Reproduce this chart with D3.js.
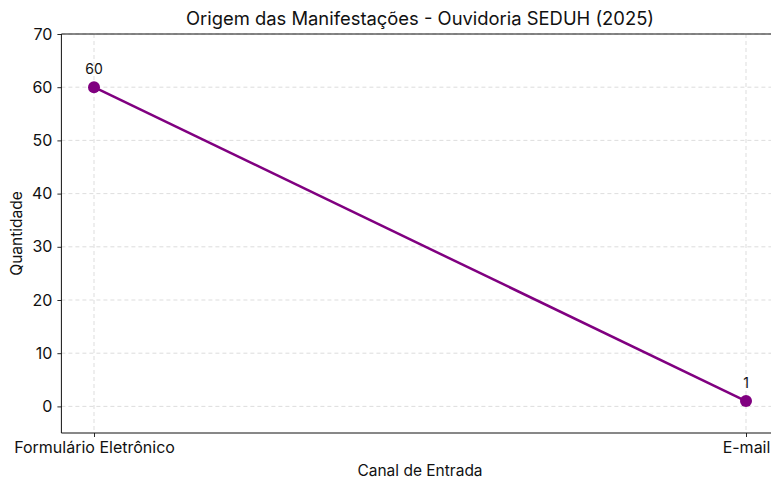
<!DOCTYPE html>
<html>
<head>
<meta charset="utf-8">
<script src="https://cdn.jsdelivr.net/npm/d3@7"></script>
<style>
	body { margin: 0; background: #fff; }
	text { font-family: "Inter", "Roboto", sans-serif; fill: #111; }
</style>
</head>
<body>
<div id="chart-area"></div>
<script>
// Data
var categories = ["Formulário Eletrônico", "E-mail"];
var values     = [60, 1];
var yTicks     = [0, 10, 20, 30, 40, 50, 60, 70];

// Canvas size
var W = 771, H = 480;

// Axes box (right edge runs past the window, as in the reference)
var margin = { left : 61.4, right : 778.6, top : 34, bottom : 433 };

var svg = d3.select('#chart-area')
	.append('svg')
		.attr('width', W)
		.attr('height', H);

// Categorical x with matplotlib-style 5% margins
var x = d3.scaleLinear()
	.domain([-0.05, categories.length - 1 + 0.05])
	.range([margin.left, margin.right]);

var y = d3.scaleLinear()
	.domain([-5, 70])
	.range([margin.bottom, margin.top]);

// Grid
var grid = svg.append('g')
	.attr('stroke', '#d4d4d4')
	.attr('stroke-dasharray', '4,3')
	.attr('stroke-width', 0.8);

grid.selectAll('.gy')
	.data(yTicks)
	.enter().append('line')
		.attr('x1', margin.left).attr('x2', margin.right)
		.attr('y1', function(d) { return y(d); })
		.attr('y2', function(d) { return y(d); });

grid.selectAll('.gx')
	.data(categories)
	.enter().append('line')
		.attr('x1', function(d, i) { return x(i); })
		.attr('x2', function(d, i) { return x(i); })
		.attr('y1', margin.top).attr('y2', margin.bottom);

// Y axis
var yAxis = svg.append('g')
	.attr('transform', 'translate(' + margin.left + ',0)')
	.call(d3.axisLeft(y).tickValues(yTicks).tickSize(4).tickPadding(5));

// X axis
var xAxis = svg.append('g')
	.attr('transform', 'translate(0,' + margin.bottom + ')')
	.call(d3.axisBottom(x)
		.tickValues(d3.range(categories.length))
		.tickFormat(function(i) { return categories[i]; })
		.tickSize(4).tickPadding(5));

[yAxis, xAxis].forEach(function(a) {
	a.select('.domain').remove();
	a.selectAll('.tick line').attr('stroke', '#111').attr('stroke-width', 0.9);
	a.selectAll('.tick text').attr('font-size', '16px').attr('fill', '#111');
});

// Spines: left, bottom, top (right spine is off-canvas)
svg.append('line').attr('x1', margin.left).attr('x2', margin.left)
	.attr('y1', margin.top).attr('y2', margin.bottom)
	.attr('stroke', '#111').attr('stroke-width', 1);
svg.append('line').attr('x1', margin.left).attr('x2', margin.right)
	.attr('y1', margin.bottom).attr('y2', margin.bottom)
	.attr('stroke', '#111').attr('stroke-width', 1);
svg.append('line').attr('x1', margin.left).attr('x2', margin.right)
	.attr('y1', margin.top).attr('y2', margin.top)
	.attr('stroke', '#111').attr('stroke-width', 1);

// Line + markers
var line = d3.line()
	.x(function(d, i) { return x(i); })
	.y(function(d) { return y(d); });

svg.append('path')
	.datum(values)
	.attr('d', line)
	.attr('fill', 'none')
	.attr('stroke', '#800080')
	.attr('stroke-width', 2.5);

svg.selectAll('.pt')
	.data(values)
	.enter().append('circle')
		.attr('cx', function(d, i) { return x(i); })
		.attr('cy', function(d) { return y(d); })
		.attr('r', 6)
		.attr('fill', '#800080');

// Value labels
svg.selectAll('.lbl')
	.data(values)
	.enter().append('text')
		.attr('x', function(d, i) { return x(i); })
		.attr('y', function(d) { return y(d) - 13; })
		.attr('text-anchor', 'middle')
		.attr('font-size', '14px')
		.text(function(d) { return d; });

// Title and axis labels
svg.append('text')
	.attr('x', (margin.left + margin.right) / 2)
	.attr('y', 25)
	.attr('text-anchor', 'middle')
	.attr('font-size', '18.4px')
	.text('Origem das Manifestações - Ouvidoria SEDUH (2025)');

svg.append('text')
	.attr('x', (margin.left + margin.right) / 2)
	.attr('y', 476)
	.attr('text-anchor', 'middle')
	.attr('font-size', '15.5px')
	.text('Canal de Entrada');

svg.append('text')
	.attr('transform', 'rotate(-90)')
	.attr('x', -(margin.top + margin.bottom) / 2)
	.attr('y', 22)
	.attr('text-anchor', 'middle')
	.attr('font-size', '15.5px')
	.text('Quantidade');
</script>
</body>
</html>
